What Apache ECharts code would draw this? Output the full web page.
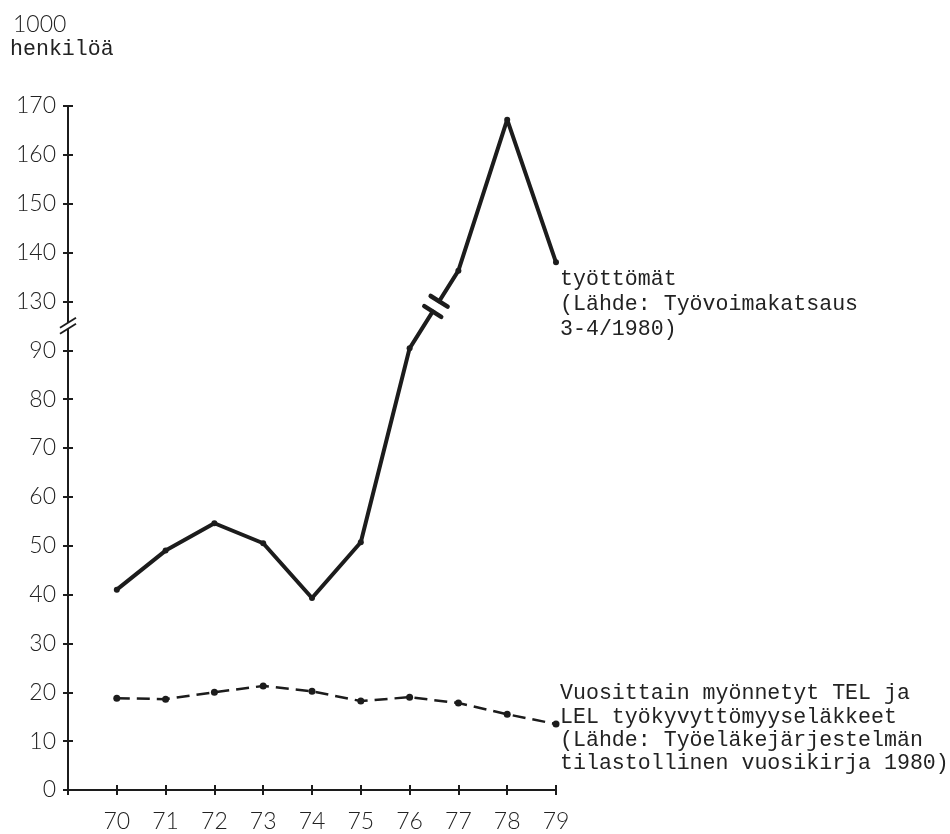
<!DOCTYPE html>
<html>
<head>
<meta charset="utf-8">
<script src="https://cdn.jsdelivr.net/npm/echarts@6/dist/echarts.min.js"></script>
<style>
html,body{margin:0;padding:0;background:#fff;}
#chart{width:950px;height:834px;}
</style>
</head>
<body>
<div id="chart"></div>
<script>
// ---- data ----
const years = [70, 71, 72, 73, 74, 75, 76, 77, 78, 79];
const unemployed = [41, 49, 54.6, 50.5, 39.3, 50.7, 90.4, 136.3, 167.2, 138];
const pensions = [18.8, 18.6, 20.0, 21.3, 20.2, 18.2, 19.0, 17.8, 15.5, 13.5];
const yTickLabels = [0, 10, 20, 30, 40, 50, 60, 70, 80, 90, 130, 140, 150, 160, 170];
const unitText = ['1000', 'henkilöä'];
const label1 = ['työttömät', '(Lähde: Työvoimakatsaus', '3-4/1980)'];
const label2 = ['Vuosittain myönnetyt TEL ja', 'LEL työkyvyttömyyseläkkeet', '(Lähde: Työeläkejärjestelmän', 'tilastollinen vuosikirja 1980)'];

// broken axis: values >= 100 are drawn shifted down by GAP
const BREAK_AT = 95;
const GAP = 30;
const toDisp = v => (v >= 100 ? v - GAP : v);
const fromDisp = d => (d <= 90 ? d : d + GAP);

const INK = '#1c1c1c';
const SANS = 'Lato, "Open Sans", "Liberation Sans", sans-serif';
const MONO = '"Liberation Mono", "DejaVu Sans Mono", monospace';

const chart = echarts.init(document.getElementById('chart'), null, {renderer: 'canvas'});

const grid = {left: 68, right: 394, top: 106, bottom: 44};

const breakIdx = years.indexOf(76);

const option = {
  backgroundColor: '#fff',
  animation: false,
  grid: grid,
  xAxis: [{
    type: 'value', min: 69, max: 79, interval: 1,
    axisLine: {show: true, onZero: false, lineStyle: {color: INK, width: 2}},
    axisTick: {show: true, length: 5, lineStyle: {color: INK, width: 2}},
    splitLine: {show: false},
    axisLabel: {
      margin: 20, fontFamily: SANS, fontWeight: 300, fontSize: 23, color: '#222',
      formatter: v => (years.indexOf(v) >= 0 ? String(v) : '')
    }
  }, {
    type: 'value', min: 69, max: 79, interval: 1, position: 'bottom',
    axisLine: {show: false},
    axisTick: {show: true, inside: true, length: 5, lineStyle: {color: INK, width: 2}},
    axisLabel: {show: false}, splitLine: {show: false}
  }],
  yAxis: [{
    type: 'value', min: 0, max: toDisp(170), interval: 10,
    axisLine: {show: true, onZero: false, lineStyle: {color: INK, width: 2}},
    axisTick: {show: true, length: 5, lineStyle: {color: INK, width: 2}},
    splitLine: {show: false},
    axisLabel: {
      margin: 12, fontFamily: SANS, fontWeight: 300, fontSize: 23, color: '#222',
      formatter: d => {
        const v = fromDisp(d);
        return yTickLabels.indexOf(v) >= 0 ? String(v) : '';
      }
    }
  }, {
    type: 'value', min: 0, max: toDisp(170), interval: 10, position: 'left',
    axisLine: {show: false},
    axisTick: {show: true, inside: true, length: 5, lineStyle: {color: INK, width: 2}},
    axisLabel: {show: false}, splitLine: {show: false}
  }],
  graphic: [
    {type: 'text', left: 13, top: 13, style: {text: unitText[0], font: '300 23px ' + SANS, fill: '#222'}},
    {type: 'text', left: 10, top: 38, style: {text: unitText[1], font: '21.6px ' + MONO, fill: '#222'}},
    {type: 'text', left: 560, top: 267, style: {text: label1.join('\n'), font: '21.6px ' + MONO, fill: '#222', lineHeight: 25}},
    {type: 'text', left: 560, top: 682, style: {text: label2.join('\n'), font: '21.6px ' + MONO, fill: '#222', lineHeight: 23.2}}
  ],
  series: [
    {
      name: 'työttömät', type: 'line',
      data: years.map((y, i) => [y, toDisp(unemployed[i])]),
      symbol: 'circle', symbolSize: 6, showSymbol: true,
      itemStyle: {color: INK},
      lineStyle: {color: INK, width: 4, cap: 'round', join: 'round'},
      z: 3
    },
    {
      name: 'eläkkeet', type: 'line',
      data: years.map((y, i) => [y, pensions[i]]),
      symbol: 'circle', symbolSize: 7,
      itemStyle: {color: INK},
      lineStyle: {color: INK, width: 2.5, type: [13, 7]},
      z: 3
    },
    {
      // break marker on the unemployment line between 76 and 77
      type: 'custom', z: 10, clip: false, silent: true,
      data: [[years[breakIdx], toDisp(unemployed[breakIdx]), years[breakIdx + 1], toDisp(unemployed[breakIdx + 1])]],
      renderItem: (params, api) => {
        const p0 = api.coord([api.value(0), api.value(1)]);
        const p1 = api.coord([api.value(2), api.value(3)]);
        const dx = p1[0] - p0[0], dy = p1[1] - p0[1];
        const len = Math.hypot(dx, dy);
        const ux = dx / len, uy = dy / len, nx = -uy, ny = ux;
        const t = 0.54;
        const c = [p0[0] + dx * t, p0[1] + dy * t];
        const h = 6, b = 10;
        const bar = s => ({
          type: 'line',
          shape: {x1: c[0] + ux * s - nx * b, y1: c[1] + uy * s - ny * b, x2: c[0] + ux * s + nx * b, y2: c[1] + uy * s + ny * b},
          style: {stroke: INK, lineWidth: 4.5, lineCap: 'round'}
        });
        return {
          type: 'group',
          children: [
            {type: 'line', shape: {x1: c[0] - ux * (h - 2), y1: c[1] - uy * (h - 2), x2: c[0] + ux * (h - 2), y2: c[1] + uy * (h - 2)},
              style: {stroke: '#fff', lineWidth: 8}},
            bar(-h), bar(h)
          ]
        };
      }
    },
    {
      // break marker on the y axis
      type: 'custom', z: 10, clip: false, silent: true,
      data: [[69, BREAK_AT]],
      renderItem: (params, api) => {
        const p = api.coord([api.value(0), api.value(1)]);
        const sl = (oy, w, col) => ({
          type: 'line',
          shape: {x1: p[0] - 8, y1: p[1] + oy + 5, x2: p[0] + 8, y2: p[1] + oy - 5},
          style: {stroke: col, lineWidth: w}
        });
        return {
          type: 'group',
          children: [
            {type: 'rect', shape: {x: p[0] - 3, y: p[1] - 3, width: 6, height: 6}, style: {fill: '#fff'}},
            sl(-3, 1.8, INK), sl(3, 1.8, INK)
          ]
        };
      }
    }
  ]
};
chart.setOption(option);
</script>
</body>
</html>
